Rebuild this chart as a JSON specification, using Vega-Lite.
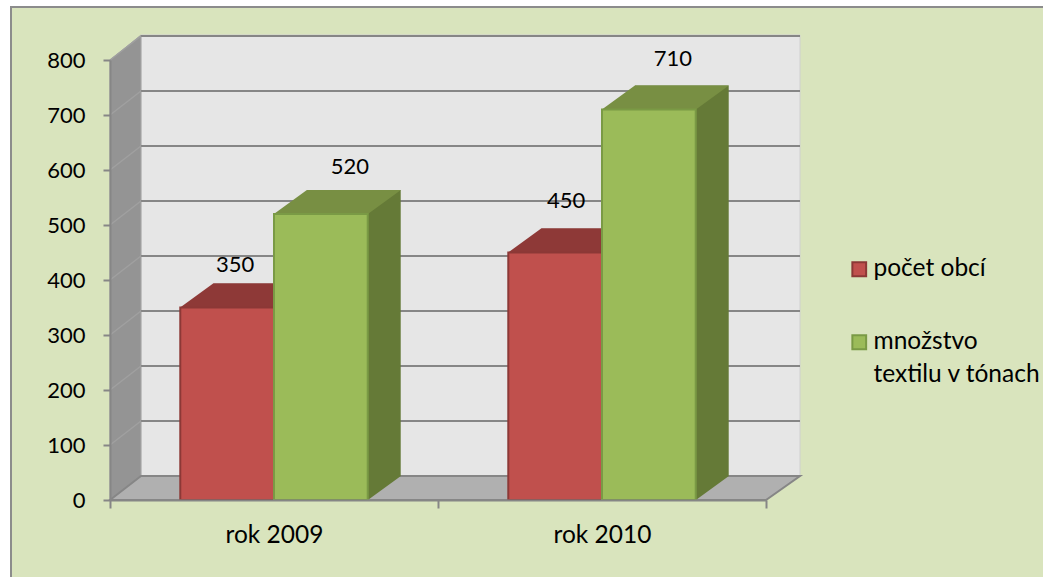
{
"$schema":"https://vega.github.io/schema/vega-lite/v6.json",
"width":656,"height":440,
"autosize":{"type":"none"},
"padding":{"left":110,"top":60,"right":277,"bottom":77},
"background":"#ffffff",
"config":{"view":{"stroke":null},"font":"Lato"},
"data":{"values":[
{"rok":"rok 2009","ukazovatel":"počet obcí","hodnota":350},
{"rok":"rok 2009","ukazovatel":"množstvo textilu v tónach","hodnota":520},
{"rok":"rok 2010","ukazovatel":"počet obcí","hodnota":450},
{"rok":"rok 2010","ukazovatel":"množstvo textilu v tónach","hodnota":710}
]},
"resolve":{"scale":{"x":"independent","xOffset":"independent"},"axis":{"x":"independent","y":"independent"}},
"encoding":{
"y":{"field":"hodnota","type":"quantitative","scale":{"domain":[0,800],"nice":false},"title":null,"axis":null}
},
"layer":[
{"data":{"values":[{"f":1}]},"mark":{"type":"rect","fill":"#d9e4bd","stroke":"#8c8c8c","strokeWidth":2,"clip":false},
 "encoding":{"x":{"value":-99},"x2":{"value":960},"y":{"value":-53},"y2":{"value":540}}},
{"data":{"values":[{"f":1}]},"mark":{"type":"point","shape":"M31,-24L690,-24L690,-465L31,-465Z","size":4,"filled":true,"fill":"#e6e6e6","opacity":1,"stroke":"#d0d0d0","strokeWidth":1},
 "encoding":{"x":{"value":0},"y":{"value":440}}},
{"data":{"values":[{"f":1}]},"mark":{"type":"point","shape":"M0,0L31,-24L31,-465L0,-440Z","size":4,"filled":true,"fill":"#949494","opacity":1,"stroke":"#a6a6a6","strokeWidth":1},
 "encoding":{"x":{"value":0},"y":{"value":440}}},
{"data":{"values":[{"f":1}]},"mark":{"type":"point","shape":"M0,0L31,-24L690,-24L656,0Z","size":4,"filled":true,"fill":"#b0b0b0","opacity":1,"stroke":"#868686","strokeWidth":2},
 "encoding":{"x":{"value":0},"y":{"value":440}}},
{"data":{"values":[{"t":100},{"t":200},{"t":300},{"t":400},{"t":500},{"t":600},{"t":700},{"t":800}]},
 "mark":{"type":"rule","stroke":"#868686","strokeWidth":2,"yOffset":-24,"y2Offset":-24},
 "encoding":{"y":{"field":"t","type":"quantitative","scale":{"domain":[0,800],"nice":false},"axis":null},"x":{"value":31},"x2":{"value":690}}},
{"data":{"values":[{"t":100},{"t":200},{"t":300},{"t":400},{"t":500},{"t":600},{"t":700},{"t":800}]},
 "mark":{"type":"point","shape":"M0,0L31,-24","size":4,"filled":false,"stroke":"#a0a0a0","strokeWidth":1.5,"opacity":1},
 "encoding":{"y":{"field":"t","type":"quantitative","scale":{"domain":[0,800],"nice":false},"axis":null},"x":{"value":0}}},
{"mark":{"type":"bar","yOffset":-24,"y2Offset":-24,"opacity":1},
 "encoding":{
  "x":{"field":"rok","type":"nominal","scale":{"type":"band","paddingInner":0,"paddingOuter":0,"range":[33,689]},"axis":null},
  "xOffset":{"field":"ukazovatel","type":"nominal","sort":["počet obcí","množstvo textilu v tónach"],"scale":{"type":"band","paddingInner":0,"paddingOuter":0.75}},
  "y2":{"datum":0},
  "fill":{"condition":{"test":"datum.ukazovatel==='počet obcí'","value":"#7f3331"},"value":"#657a37"}}},
{"mark":{"type":"point","shape":"M47,0L80,-24L47,-24Z","size":4,"filled":true,"opacity":1},
 "encoding":{
  "x":{"field":"rok","type":"nominal","scale":{"type":"band","paddingInner":0,"paddingOuter":0},"axis":null},
  "xOffset":{"field":"ukazovatel","type":"nominal","sort":["počet obcí","množstvo textilu v tónach"],"scale":{"type":"band","paddingInner":0,"paddingOuter":0.75}},
  "y":{"datum":0},
  "fill":{"condition":{"test":"datum.ukazovatel==='počet obcí'","value":"#7f3331"},"value":"#657a37"}}},
{"mark":{"type":"point","shape":"M-47,0L47,0L80,-24L-14,-24Z","size":4,"filled":true,"opacity":1},
 "encoding":{
  "x":{"field":"rok","type":"nominal","scale":{"type":"band","paddingInner":0,"paddingOuter":0},"axis":null},
  "xOffset":{"field":"ukazovatel","type":"nominal","sort":["počet obcí","množstvo textilu v tónach"],"scale":{"type":"band","paddingInner":0,"paddingOuter":0.75}},
  "fill":{"condition":{"test":"datum.ukazovatel==='počet obcí'","value":"#8e3937"},"value":"#788f43"}}},
{"mark":{"type":"bar","strokeWidth":2,"opacity":1},
 "encoding":{
  "x":{"field":"rok","type":"nominal","title":null,"scale":{"type":"band","paddingInner":0,"paddingOuter":0},"axis":{"orient":"bottom","title":null,"zindex":1,"labelAngle":0,"tickBand":"extent","tickColor":"#868686","tickWidth":2,"tickSize":8,"domainColor":"#868686","domainWidth":2,"labelColor":"#000000","labelFontSize":24.5,"labelPadding":15,"labelFont":"Lato"}},
  "xOffset":{"field":"ukazovatel","type":"nominal","sort":["počet obcí","množstvo textilu v tónach"],"scale":{"type":"band","paddingInner":0,"paddingOuter":0.75}},
  "y":{"field":"hodnota","type":"quantitative","title":null,"axis":{"orient":"left","title":null,"zindex":1,"values":[0,100,200,300,400,500,600,700,800],"grid":false,"tickColor":"#868686","tickWidth":2,"tickSize":7,"domainColor":"#868686","domainWidth":2,"labelColor":"#000000","labelFontSize":22,"labelPadding":18,"labelFont":"Lato"}},
  "y2":{"datum":0},
  "fill":{"field":"ukazovatel","type":"nominal","scale":{"domain":["počet obcí","množstvo textilu v tónach"],"range":["#c0504d","#9bbb59"]},
   "legend":{"orient":"none","legendX":737,"legendY":197,"title":null,"symbolType":"square","symbolSize":190,"symbolStrokeWidth":2,"labelFontSize":24.5,"labelColor":"#000000","labelLimit":300,"labelOffset":2,"rowPadding":48,"labelFont":"Lato",
    "labelExpr":"datum.label==='množstvo textilu v tónach'?['množstvo','textilu v tónach']:datum.label",
    "encoding":{"labels":{"lineHeight":{"value":33}}}}},
  "stroke":{"field":"ukazovatel","type":"nominal","scale":{"domain":["počet obcí","množstvo textilu v tónach"],"range":["#8c3836","#7a9a45"]}}}},
{"transform":[{"filter":"datum.hodnota===350"}],"mark":{"type":"text","fontSize":22,"font":"Lato","color":"#000000","dx":8,"dy":-43},
 "encoding":{"x":{"field":"rok","type":"nominal","scale":{"type":"band","domain":["rok 2009","rok 2010"],"paddingInner":0,"paddingOuter":0},"axis":null},"xOffset":{"field":"ukazovatel","type":"nominal","scale":{"type":"band","domain":["počet obcí","množstvo textilu v tónach"],"paddingInner":0,"paddingOuter":0.75}},"text":{"field":"hodnota","type":"quantitative"}}},
{"transform":[{"filter":"datum.hodnota===520"}],"mark":{"type":"text","fontSize":22,"font":"Lato","color":"#000000","dx":29,"dy":-47},
 "encoding":{"x":{"field":"rok","type":"nominal","scale":{"type":"band","domain":["rok 2009","rok 2010"],"paddingInner":0,"paddingOuter":0},"axis":null},"xOffset":{"field":"ukazovatel","type":"nominal","scale":{"type":"band","domain":["počet obcí","množstvo textilu v tónach"],"paddingInner":0,"paddingOuter":0.75}},"text":{"field":"hodnota","type":"quantitative"}}},
{"transform":[{"filter":"datum.hodnota===450"}],"mark":{"type":"text","fontSize":22,"font":"Lato","color":"#000000","dx":11,"dy":-52},
 "encoding":{"x":{"field":"rok","type":"nominal","scale":{"type":"band","domain":["rok 2009","rok 2010"],"paddingInner":0,"paddingOuter":0},"axis":null},"xOffset":{"field":"ukazovatel","type":"nominal","scale":{"type":"band","domain":["počet obcí","množstvo textilu v tónach"],"paddingInner":0,"paddingOuter":0.75}},"text":{"field":"hodnota","type":"quantitative"}}},
{"transform":[{"filter":"datum.hodnota===710"}],"mark":{"type":"text","fontSize":22,"font":"Lato","color":"#000000","dx":24,"dy":-51},
 "encoding":{"x":{"field":"rok","type":"nominal","scale":{"type":"band","domain":["rok 2009","rok 2010"],"paddingInner":0,"paddingOuter":0},"axis":null},"xOffset":{"field":"ukazovatel","type":"nominal","scale":{"type":"band","domain":["počet obcí","množstvo textilu v tónach"],"paddingInner":0,"paddingOuter":0.75}},"text":{"field":"hodnota","type":"quantitative"}}}
]
}
